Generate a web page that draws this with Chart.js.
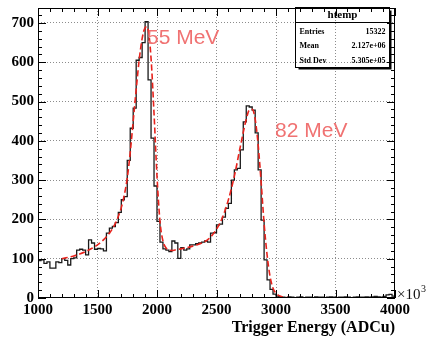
<!DOCTYPE html>
<html>
<head>
<meta charset="utf-8">
<script src="https://cdn.jsdelivr.net/npm/chart.js@4.4.0/dist/chart.umd.min.js"></script>
<style>
  html, body { margin: 0; padding: 0; background: #fff; }
  canvas { display: block; }
</style>
</head>
<body>
<canvas id="htemp" width="430" height="337"></canvas>
<script>
// histogram: counts in 25 ADCu bins, 1000 -> 4000
const binLow = 1000;
const binWidth = 25;
const counts = [
  95, 97, 88, 92, 76, 76, 92, 90, 100, 96,
  84, 100, 102, 122, 124, 122, 110, 148, 140, 124,
  126, 125, 120, 165, 178, 182, 192, 218, 250, 258,
  350, 432, 483, 605, 612, 650, 703, 555, 407, 285,
  195, 142, 125, 122, 118, 145, 140, 101, 128, 122,
  125, 135, 135, 138, 140, 142, 145, 142, 165, 166,
  186, 188, 206, 228, 241, 300, 326, 330, 377, 448,
  489, 486, 478, 420, 326, 198, 97, 46, 22, 10,
  5, 3, 2, 1, 3, 2, 1, 2, 3, 1,
  2, 2, 1, 3, 2, 2, 1, 2, 3, 2,
  1, 2, 2, 3, 2, 1, 2, 3, 2, 2,
  3, 2, 3, 4, 3, 2, 4, 8, 9, 5
];

// fit curve
const fitX = [1200, 1250, 1300, 1350, 1400, 1450, 1500, 1550, 1600, 1650, 1700, 1725, 1750, 1775, 1800, 1825, 1850, 1875, 1900, 1915, 1925, 1950, 1975, 2000, 2025, 2050, 2075, 2100, 2125, 2150, 2200, 2250, 2300, 2350, 2400, 2450, 2500, 2550, 2600, 2650, 2700, 2750, 2775, 2800, 2825, 2850, 2875, 2900, 2925, 2950, 2975, 3000, 3050, 3100];
const fitY = [100, 103, 107, 112, 118, 126, 135, 148, 165, 190, 230, 262, 305, 370, 450, 530, 605, 660, 688, 690, 685, 610, 470, 310, 195, 145, 128, 122, 121, 122, 125, 128, 132, 137, 143, 155, 175, 205, 250, 310, 385, 455, 478, 480, 455, 390, 295, 190, 110, 55, 25, 12, 3, 1];

const peakLabels = ['55 MeV', '82 MeV'];
const peakLabelX = [1916, 2992];
const peakLabelY = [662, 425];

const statsTitle = 'htemp';
const statsNames = ['Entries', 'Mean', 'Std Dev'];
const statsValues = ['15322', '2.127e+06', '5.305e+05'];

const histPoints = counts.map((c, i) => ({ x: binLow + i * binWidth, y: c }));
histPoints.push({ x: binLow + counts.length * binWidth, y: counts[counts.length - 1] });
const fitPoints = fitX.map((x, i) => ({ x: x, y: fitY[i] }));

const serif = '"Liberation Serif", "DejaVu Serif", serif';

const rootStyle = {
  id: 'rootStyle',
  afterDraw(chart) {
    const ctx = chart.ctx;
    const a = chart.chartArea;
    const xs = chart.scales.x, ys = chart.scales.y;
    ctx.save();

    // frame
    ctx.strokeStyle = '#000';
    ctx.lineWidth = 1;
    ctx.strokeRect(a.left + 0.5, a.top + 0.5, a.right - a.left - 1, a.bottom - a.top - 1);

    // ticks, inside the frame on all four sides
    ctx.beginPath();
    for (let v = 1000; v <= 4000; v += 100) {
      const px = Math.round(xs.getPixelForValue(v)) + 0.5;
      const len = v % 500 === 0 ? 8 : 4;
      ctx.moveTo(px, a.bottom); ctx.lineTo(px, a.bottom - len);
      ctx.moveTo(px, a.top); ctx.lineTo(px, a.top + len);
    }
    for (let v = 0; v <= ys.max; v += 20) {
      const py = Math.round(ys.getPixelForValue(v)) + 0.5;
      const len = v % 100 === 0 ? 8 : 4;
      ctx.moveTo(a.left, py); ctx.lineTo(a.left + len, py);
      ctx.moveTo(a.right, py); ctx.lineTo(a.right - len, py);
    }
    ctx.stroke();

    // x10^3
    ctx.fillStyle = '#111';
    ctx.textBaseline = 'alphabetic';
    ctx.textAlign = 'left';
    ctx.font = '15px ' + serif;
    ctx.fillText('\u00d710', a.right + 2, a.bottom + 1);
    ctx.font = '10px ' + serif;
    ctx.fillText('3', a.right + 26, a.bottom - 6);

    // peak labels
    ctx.fillStyle = '#f07272';
    ctx.font = '21px "Liberation Sans", Arial, sans-serif';
    ctx.textBaseline = 'middle';
    peakLabels.forEach((t, i) => {
      ctx.fillText(t, xs.getPixelForValue(peakLabelX[i]), ys.getPixelForValue(peakLabelY[i]));
    });

    // stats box (transparent, ROOT style shadow)
    const bx = 295.5, by = a.top - 0.5, bw = 94, bh = 60;
    ctx.strokeStyle = '#000';
    ctx.lineWidth = 1;
    ctx.strokeRect(bx, by, bw, bh);
    ctx.lineWidth = 2;
    ctx.beginPath();
    ctx.moveTo(bx + bw + 1, by + 3); ctx.lineTo(bx + bw + 1, by + bh + 1); ctx.lineTo(bx + 3, by + bh + 1);
    ctx.stroke();
    ctx.lineWidth = 1;
    ctx.beginPath();
    ctx.moveTo(bx, by + 15); ctx.lineTo(bx + bw, by + 15);
    ctx.stroke();
    ctx.fillStyle = '#000';
    ctx.textAlign = 'center';
    ctx.font = 'bold 11px ' + serif;
    ctx.fillText(statsTitle, bx + bw / 2, by + 8);
    ctx.font = 'bold 8px ' + serif;
    statsNames.forEach((n, i) => {
      const ty = by + 24 + i * 14.5;
      ctx.textAlign = 'left';
      ctx.fillText(n, bx + 4, ty);
      ctx.textAlign = 'right';
      ctx.fillText(statsValues[i], bx + bw - 4, ty);
    });
    ctx.restore();
  }
};

new Chart(document.getElementById('htemp'), {
  type: 'line',
  data: {
    datasets: [
      {
        label: 'fit',
        data: fitPoints,
        borderColor: '#e8221c',
        borderWidth: 1.6,
        borderDash: [6, 3],
        pointRadius: 0,
        cubicInterpolationMode: 'monotone',
        fill: false,
        order: 0
      },
      {
        label: 'htemp',
        data: histPoints,
        borderColor: '#1a1a1a',
        borderWidth: 1.3,
        stepped: true,
        pointRadius: 0,
        fill: false,
        order: 1
      }
    ]
  },
  options: {
    responsive: false,
    animation: false,
    layout: { padding: { left: 0, right: 35, top: 8, bottom: 0 } },
    plugins: { legend: { display: false }, tooltip: { enabled: false } },
    scales: {
      x: {
        type: 'linear',
        min: 1000,
        max: 4000,
        afterFit(s) { s.height = 39; s.paddingLeft = 0; s.paddingRight = 0; },
        border: { display: false, dash: [1, 2] },
        grid: {
          drawTicks: false,
          color: (c) => (c.tick && (c.tick.value === 1000 || c.tick.value === 4000)) ? 'rgba(0,0,0,0)' : '#8c8c8c'
        },
        ticks: {
          stepSize: 500,
          autoSkip: false,
          maxRotation: 0,
          padding: 3,
          color: '#000',
          font: { family: serif, size: 15, weight: 'bold' },
          callback: (v) => String(v)
        },
        title: {
          display: true,
          text: 'Trigger Energy (ADCu)',
          align: 'end',
          color: '#000',
          font: { family: serif, size: 16, weight: 'bold' },
          padding: { top: 0, bottom: 0 }
        }
      },
      y: {
        min: 0,
        max: 738,
        afterFit(s) { s.width = 38; s.paddingTop = 0; s.paddingBottom = 0; },
        border: { display: false, dash: [1, 2] },
        grid: {
          drawTicks: false,
          color: (c) => (c.tick && c.tick.value === 0) ? 'rgba(0,0,0,0)' : '#8c8c8c'
        },
        ticks: {
          stepSize: 100,
          includeBounds: false,
          padding: 4,
          color: '#000',
          font: { family: serif, size: 15, weight: 'bold' },
          callback: (v) => String(v)
        }
      }
    }
  },
  plugins: [rootStyle]
});
</script>
</body>
</html>
